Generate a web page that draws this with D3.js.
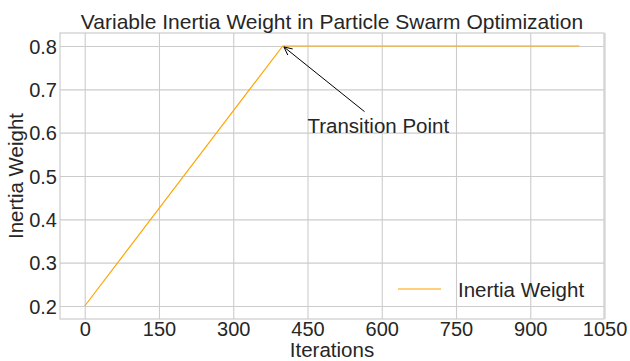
<!DOCTYPE html>
<meta charset="utf-8">
<style>
body{ margin:0; background:#fff; }
text{ font-family:"Liberation Sans", Arial, sans-serif; fill:#262626; }
.grid line{ stroke:#cccccc; stroke-width:1.1px; }
.grid path{ display:none; }
.tick text{ font-size:20px; }
</style>
<body>
<script src="https://d3js.org/d3.v7.min.js"></script>
<script>
// data
var iterations = [0, 400, 999];
var weights = [0.2, 0.8, 0.8];
var xTicks = [0, 150, 300, 450, 600, 750, 900, 1050];
var yTicks = [0.2, 0.3, 0.4, 0.5, 0.6, 0.7, 0.8];
var transition = {x: 400, y: 0.8, tx: 450, ty: 0.6, label: "Transition Point"};

var W = 630, H = 361;
var pL = 60, pR = 604, pT = 33, pB = 319;

var svg = d3.select("body").append("svg").attr("width", W).attr("height", H);

// matplotlib style 5% margins
var xr = d3.extent(iterations), yr = d3.extent(weights);
var xm = (xr[1]-xr[0])*0.05, ym = (yr[1]-yr[0])*0.05;
var x = d3.scaleLinear().domain([xr[0]-xm, xr[1]+xm]).range([pL, pR]);
var y = d3.scaleLinear().domain([yr[0]-ym, yr[1]+ym]).range([pB, pT]);

// grid + tick labels
var gx = svg.append("g").attr("class","grid").attr("transform","translate(0,"+pB+")")
    .call(d3.axisBottom(x).tickValues(xTicks).tickSize(-(pB-pT)).tickPadding(0).tickFormat(d3.format("d")));
gx.selectAll(".tick text").attr("y", 17).attr("dy", 0);

var gy = svg.append("g").attr("class","grid").attr("transform","translate("+pL+",0)")
    .call(d3.axisLeft(y).tickValues(yTicks).tickSize(-(pR-pL)).tickPadding(0).tickFormat(d3.format(".1f")));
gy.selectAll(".tick text").attr("x", -3).attr("dy", "0.36em");

// frame
svg.append("rect").attr("x",pL).attr("y",pT).attr("width",pR-pL).attr("height",pB-pT)
    .attr("fill","none").attr("stroke","#cccccc").attr("stroke-width",1.2);

// the series
var pts = iterations.map(function(d,i){ return [d, weights[i]]; });
svg.append("path").datum(pts)
    .attr("fill","none").attr("stroke","#ffa500").attr("stroke-width",1.2)
    .attr("d", d3.line().x(function(d){ return x(d[0]); }).y(function(d){ return y(d[1]); }));

// annotation
var ann = svg.append("text").attr("x", x(transition.tx)).attr("y", y(transition.ty))
    .style("font-size","20.5px").text(transition.label);
var bb = ann.node().getBBox();
var cx = bb.x + bb.width/2, cy = bb.y + bb.height/2;
var px = x(transition.x), py = y(transition.y);
// clip start at the bbox top edge
var t = (cy - bb.y) / (cy - py);
var sx = cx + (px-cx)*t, sy = bb.y - 2;
var ang = Math.atan2(py-sy, px-sx);
var ex = px - Math.cos(ang)*1.5, ey = py - Math.sin(ang)*1.5;
svg.append("line").attr("x1",sx).attr("y1",sy).attr("x2",ex).attr("y2",ey)
    .attr("stroke","#000").attr("stroke-width",1);
[0.45, -0.45].forEach(function(a){
    svg.append("line").attr("x1",ex).attr("y1",ey)
        .attr("x2", ex - Math.cos(ang+a)*9).attr("y2", ey - Math.sin(ang+a)*9)
        .attr("stroke","#000").attr("stroke-width",1);
});

// titles
svg.append("text").attr("x",(pL+pR)/2).attr("y",28.5).attr("text-anchor","middle")
    .style("font-size","21px").text("Variable Inertia Weight in Particle Swarm Optimization");
svg.append("text").attr("x",(pL+pR)/2).attr("y",357).attr("text-anchor","middle")
    .style("font-size","20.5px").text("Iterations");
svg.append("text").attr("transform","translate(23,"+((pT+pB)/2)+") rotate(-90)")
    .attr("text-anchor","middle").style("font-size","20.5px").text("Inertia Weight");

// legend
var lg = svg.append("g").attr("transform","translate(398,289)");
lg.append("line").attr("x1",0).attr("x2",43).attr("stroke","#ffa500").attr("stroke-opacity",0.7).attr("stroke-width",1.5);
lg.append("text").attr("x",60).attr("y",7.5).style("font-size","20.5px").text("Inertia Weight");
</script>
</body>
